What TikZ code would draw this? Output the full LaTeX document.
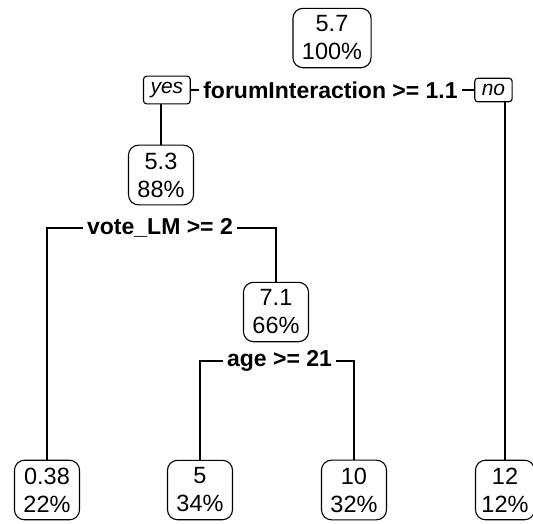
\documentclass[tikz,border=0pt]{standalone}
\usepackage{fontspec}
\setmainfont{Liberation Sans}
\usetikzlibrary{positioning}

\begin{document}
\begin{tikzpicture}[x=1pt,y=-1pt,line width=1.1pt,node distance=8pt,
  main node/.style={rectangle,rounded corners=10pt,draw,fill=white,align=center,
    inner xsep=9pt,inner ysep=7.5pt,font=\fontsize{23.5}{28}\selectfont},
  split/.style={inner xsep=4pt,inner ysep=2pt,font=\fontsize{23}{28}\selectfont\bfseries},
  answer/.style={rectangle,rounded corners=3pt,draw,inner xsep=7pt,inner ysep=6pt,
    font=\fontsize{21}{24}\selectfont\itshape},
  elbow/.style={to path={-| (\tikztotarget)}}]
  \useasboundingbox (0,0) rectangle (533,523);

  \node[main node] (1) at (332,38) {5.7\\100\%};
  \node[split] (s1) at (330.5,90) {forumInteraction >= 1.1};
  \node[answer] (yes) [left=of s1] {yes};
  \node[answer] (no) [right=12pt of s1] {no};

  \node[main node] (2) at (161,175) {5.3\\88\%};
  \node[split] (s2) at (160,228) {vote\_LM >= 2};

  \node[main node] (5) at (276,312) {7.1\\66\%};
  \node[split] (s5) at (279.5,361) {age >= 21};

  \node[main node] (4) at (47,490) {0.38\\22\%};
  \node[main node] (10) at (200,490) {5\\34\%};
  \node[main node] (11) at (354,490) {10\\32\%};
  \node[main node,inner xsep=6pt] (3) at (505,490) {12\\12\%};

  \path (yes) edge (s1)
        (s1) edge (no)
        (yes.south -| 2.north) edge (2)
        (no.south -| 3.north) edge (3)
        (s2.west) edge[elbow] (4.north)
        (s2.east) edge[elbow] (5.north)
        (s5.west) edge[elbow] (10.north)
        (s5.east) edge[elbow] (11.north);
\end{tikzpicture}
\end{document}
